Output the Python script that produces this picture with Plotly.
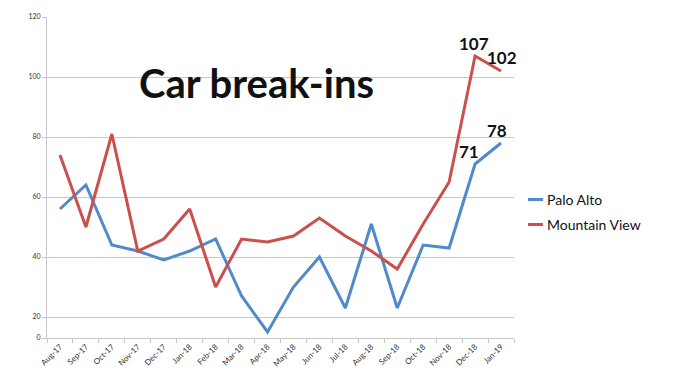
import plotly.graph_objects as go

months = ["Aug-17", "Sep-17", "Oct-17", "Nov-17", "Dec-17", "Jan-18", "Feb-18", "Mar-18",
          "Apr-18", "May-18", "Jun-18", "Jul-18", "Aug-18", "Sep-18", "Oct-18", "Nov-18",
          "Dec-18", "Jan-19"]
palo_alto = [56, 64, 44, 42, 39, 42, 46, 27, 15, 30, 40, 23, 51, 23, 44, 43, 71, 78]
mountain_view = [74, 50, 81, 42, 46, 56, 30, 46, 45, 47, 53, 47, 42, 36, 51, 65, 107, 102]

tick_vals = [13, 20, 40, 60, 80, 100, 120]
tick_text = ["0", "20", "40", "60", "80", "100", "120"]

BLUE = "#4F8BC9"
RED = "#C9504D"
GRID = "#C8C8C8"
FONT = "Lato"

# page body has an 8px margin; compensate so the plot area lands at x 47..514, y 17..338
L, T = 39, 9
PW, PH = 467, 321

fig = go.Figure()
fig.add_trace(go.Scatter(x=months, y=palo_alto, mode="lines", name="Palo Alto",
                         line=dict(color=BLUE, width=3)))
fig.add_trace(go.Scatter(x=months, y=mountain_view, mode="lines", name="Mountain View",
                         line=dict(color=RED, width=3)))

# value labels
labels = [
    (months[16], mountain_view[16], -1, 13),
    (months[17], mountain_view[17], 1, 14),
    (months[17], palo_alto[17], -4, 13),
    (months[16], palo_alto[16], -6, 13),
]
for x, y, dx, dy in labels:
    fig.add_annotation(x=x, y=y, text=f"<b>{y}</b>", showarrow=False,
                       xshift=dx, yshift=dy,
                       font=dict(family=FONT, size=17, color="#111111"))

# title
fig.add_annotation(xref="paper", yref="paper", x=(256 - 47) / PW, y=(338 - 83) / PH,
                   xanchor="center", yanchor="middle", showarrow=False,
                   text="<b>Car break-ins</b>",
                   font=dict(family=FONT, size=40, color="#111111"))

# custom legend
legend_items = [("Palo Alto", BLUE, 199.5), ("Mountain View", RED, 224.5)]
for name, color, py in legend_items:
    yp = (338 - py) / PH
    fig.add_shape(type="line", xref="paper", yref="paper",
                  x0=(528 - 47) / PW, x1=(543 - 47) / PW, y0=yp, y1=yp,
                  line=dict(color=color, width=3))
    fig.add_annotation(xref="paper", yref="paper", x=(545 - 47) / PW, y=yp,
                       xanchor="left", yanchor="middle", showarrow=False,
                       text=name, font=dict(family=FONT, size=14, color="#111111"))

fig.update_layout(
    width=678, height=381,
    margin=dict(l=L, r=678 - L - PW, t=T, b=381 - T - PH),
    paper_bgcolor="white", plot_bgcolor="white",
    showlegend=False,
    xaxis=dict(type="category", range=[-0.5, 17.5], showgrid=False,
               showline=True, linecolor=GRID, linewidth=1,
               ticks="outside", tickson="boundaries", ticklen=4, tickcolor=GRID,
               tickangle=-45, tickfont=dict(family=FONT, size=8, color="#333333"),
               automargin=False),
    yaxis=dict(range=[13, 120], tickvals=tick_vals, ticktext=tick_text,
               showgrid=True, gridcolor=GRID, gridwidth=1, zeroline=False,
               showline=True, linecolor=GRID, linewidth=1,
               ticks="outside", ticklen=4, tickcolor=GRID,
               tickfont=dict(family=FONT, size=7, color="#333333"),
               automargin=False),
)

fig.write_html("out.html")
